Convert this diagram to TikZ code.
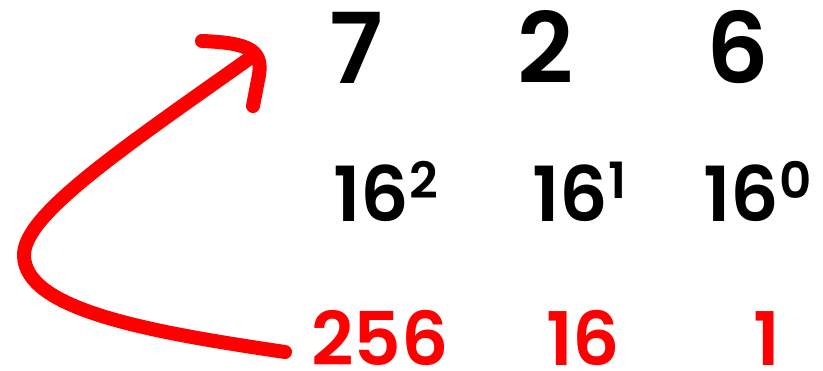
\documentclass[tikz,border=0pt]{standalone}
\usepackage{fontspec}
\newfontfamily\poppins{Poppins SemiBold}
\newcommand{\pw}[1]{\raisebox{23pt}{\fontsize{50}{50}\selectfont #1}}

\begin{document}
\begin{tikzpicture}[x=1pt, y=-1pt,
		every node/.style={inner sep=0pt, text depth=0pt, font=\poppins},
		digit/.style={anchor=base, font=\poppins\fontsize{98}{98}\selectfont},
		power/.style={anchor=base west, font=\poppins\fontsize{76}{76}\selectfont},
		value/.style={anchor=base west, text=red, font=\poppins\fontsize{74}{74}\selectfont}]
				\useasboundingbox (0,0) rectangle (823,371);

				\node[digit] (d7) at (356,84) {7};
				\node[digit] (d2) at (546,84) {2};
				\node[digit] (d6) at (738,84) {6};

				\node[power] (p2) at (333,222) {16\pw{2}};
				\node[power] (p1) at (532,222) {16\pw{1}};
				\node[power] (p0) at (703,222) {16\pw{0}};

				\node[value] (v256) at (311,366) {256};
				\node[value] (v16) at (546,366) {16};
				\node[value] (v1) at (753,366) {1};

				\coordinate (tail) at (285,352);
				\coordinate (tip) at (250,58);

				\draw[red, line width=14pt, line cap=round, line join=round]
					(tail) .. controls (150,332) and (24,310) .. (24,255)
					.. controls (24,215) and (120,150) .. (tip);
				\draw[red, line width=14pt, line cap=round, line join=round]
					(202,41) .. controls (250,43) and (265,50) .. (258,80) -- (253,106);
			\end{tikzpicture}
\end{document}
